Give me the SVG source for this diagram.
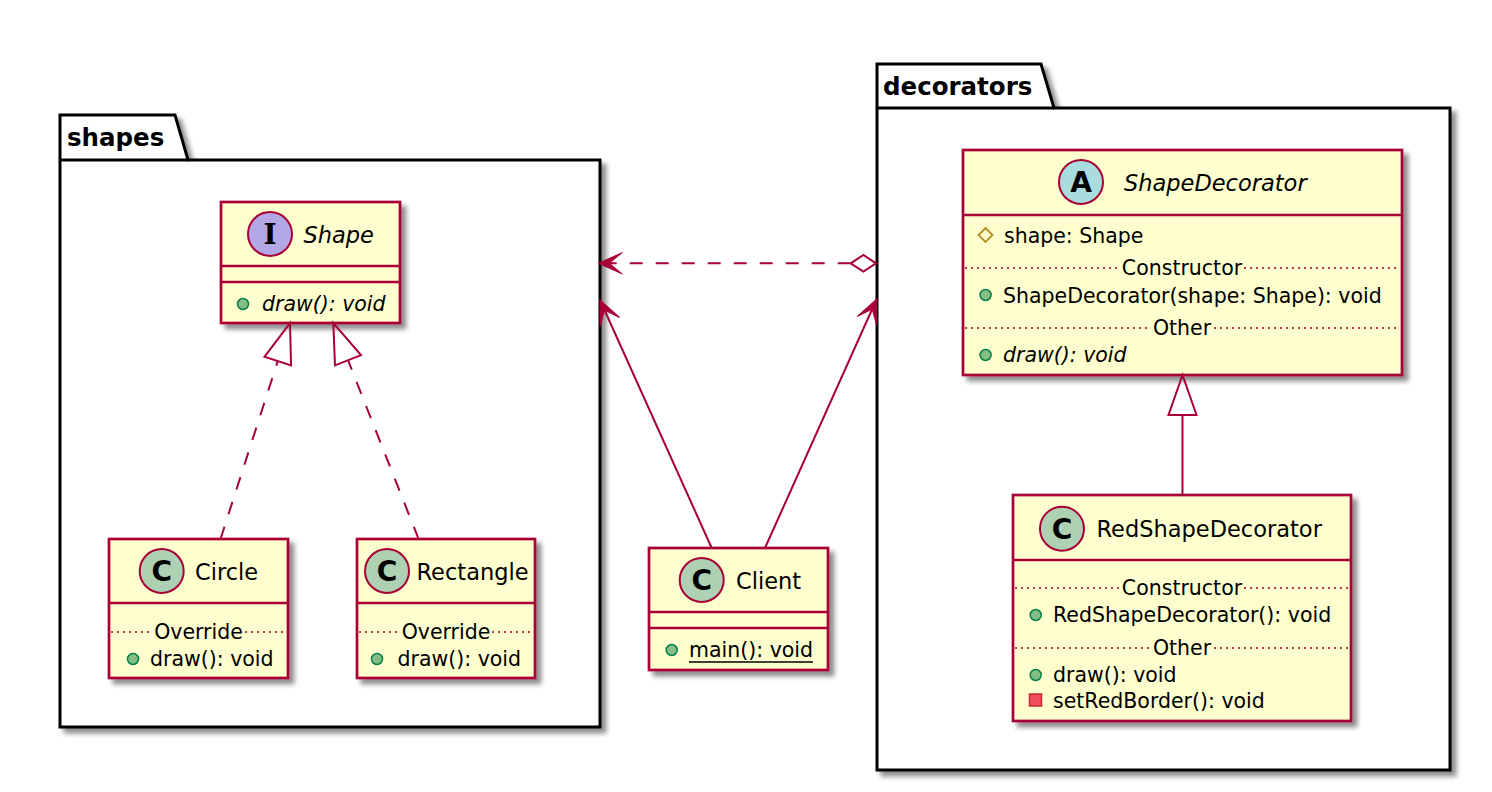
<svg xmlns="http://www.w3.org/2000/svg" width="1492" height="792" viewBox="0 0 1492 792">
<defs>
<style>
.pkg{fill:#fff;stroke:#000;stroke-width:3}
.pkgt{font:bold 24.5px "DejaVu Sans",sans-serif;fill:#000}
.cls{fill:#FEFECE;stroke:#A80036;stroke-width:2.7}
.sep{stroke:#A80036;stroke-width:2.5}
.dot{stroke:#A80036;stroke-width:1.5;stroke-dasharray:2 4}
.name{font:22.5px "DejaVu Sans",sans-serif;fill:#000}
.mem{font:20.5px "DejaVu Sans",sans-serif;fill:#000}
.mid{text-anchor:middle}
.it{font-style:italic}
.ic{stroke:#A80036;stroke-width:2}
.icC{fill:#ADD1B2}
.icA{fill:#A9DCDF}
.icI{fill:#B4A7E5}
.ltr{font:bold 28px "DejaVu Sans",sans-serif;text-anchor:middle;fill:#000}
.ltrI{font:bold 28px "DejaVu Serif",serif;text-anchor:middle;fill:#000}
.pub{fill:#84BE84;stroke:#038048;stroke-width:1.5}
.prot{fill:none;stroke:#B38D22;stroke-width:1.8}
.priv{fill:#F24D5C;stroke:#C82930;stroke-width:1.5}
.edge{stroke:#A80036;stroke-width:2;fill:none}
.dash{stroke-dasharray:13 13}
.ul{stroke:#000;stroke-width:1.5}
</style>
<filter id="sh" x="-5%" y="-5%" width="115%" height="115%">
<feGaussianBlur in="SourceAlpha" stdDeviation="2.5"/>
<feOffset dx="5" dy="5"/>
<feComponentTransfer><feFuncA type="linear" slope="0.45"/></feComponentTransfer>
<feMerge><feMergeNode/><feMergeNode in="SourceGraphic"/></feMerge>
</filter>
<marker id="tri" markerUnits="userSpaceOnUse" markerWidth="44" markerHeight="32" refX="0" refY="0" orient="auto" overflow="visible">
<path d="M0,-14 L40,0 L0,14 Z" fill="none" stroke="#A80036" stroke-width="2" stroke-dasharray="none"/>
</marker>
<marker id="arr" markerUnits="userSpaceOnUse" markerWidth="26" markerHeight="24" refX="0" refY="0" orient="auto" overflow="visible">
<path d="M0,0 L-24,-10.7 L-11,0 L-24,10.7 Z" fill="#A80036" stroke="#A80036" stroke-width="1" stroke-dasharray="none"/>
</marker>
<marker id="dia" markerUnits="userSpaceOnUse" markerWidth="28" markerHeight="20" refX="0" refY="0" orient="auto" overflow="visible">
<path d="M0,0 L-12.7,-8.3 L-25.3,0 L-12.7,8.3 Z" fill="#fff" stroke="#A80036" stroke-width="2" stroke-dasharray="none"/>
</marker>
</defs>
<rect width="1492" height="792" fill="#fff"/>

<g id="pkg-shapes">
<path class="pkg" filter="url(#sh)" d="M60,115 L175,115 L188,160 L600,160 L600,727 L60,727 Z"/>
<line class="pkg" x1="60" y1="160" x2="188" y2="160"/>
<text class="pkgt" x="67" y="146">shapes</text>
</g>

<g id="pkg-decorators">
<path class="pkg" filter="url(#sh)" d="M877,64 L1041,64 L1054,108 L1450,108 L1450,770 L877,770 Z"/>
<line class="pkg" x1="877" y1="108" x2="1054" y2="108"/>
<text class="pkgt" x="883" y="95">decorators</text>
</g>

<g id="Shape">
<rect class="cls" filter="url(#sh)" x="221" y="202" width="179" height="121"/>
<line class="sep" x1="221" y1="266" x2="400" y2="266"/>
<line class="sep" x1="221" y1="282" x2="400" y2="282"/>
<circle class="ic icI" cx="270" cy="234" r="22"/>
<text class="ltrI" x="270" y="244">I</text>
<text class="name it" x="303.5" y="243">Shape</text>
<circle class="pub" cx="243" cy="304" r="5.5"/>
<text class="mem it" x="262" y="311">draw(): void</text>
</g>

<g id="Circle">
<rect class="cls" filter="url(#sh)" x="109" y="539" width="179" height="139"/>
<line class="sep" x1="109" y1="603" x2="288" y2="603"/>
<circle class="ic icC" cx="161.7" cy="571" r="22"/>
<text class="ltr" x="161.7" y="581">C</text>
<text class="name" x="195" y="580">Circle</text>
<line class="dot" x1="111" y1="632" x2="152" y2="632"/>
<line class="dot" x1="245" y1="632" x2="286" y2="632"/>
<text class="mem mid" x="198.5" y="639">Override</text>
<circle class="pub" cx="133" cy="659" r="5.5"/>
<text class="mem" x="150" y="666">draw(): void</text>
</g>

<g id="Rectangle">
<rect class="cls" filter="url(#sh)" x="357" y="539" width="178" height="139"/>
<line class="sep" x1="357" y1="603" x2="535" y2="603"/>
<circle class="ic icC" cx="387" cy="571" r="22"/>
<text class="ltr" x="387" y="581">C</text>
<text class="name" x="416.5" y="580">Rectangle</text>
<line class="dot" x1="359" y1="632" x2="400" y2="632"/>
<line class="dot" x1="492" y1="632" x2="533" y2="632"/>
<text class="mem mid" x="446" y="639">Override</text>
<circle class="pub" cx="377" cy="659" r="5.5"/>
<text class="mem" x="397.5" y="666">draw(): void</text>
</g>

<g id="Client">
<rect class="cls" filter="url(#sh)" x="649" y="548" width="179" height="122"/>
<line class="sep" x1="649" y1="612" x2="828" y2="612"/>
<line class="sep" x1="649" y1="628" x2="828" y2="628"/>
<circle class="ic icC" cx="701.7" cy="580" r="22"/>
<text class="ltr" x="701.7" y="590">C</text>
<text class="name" x="736" y="589">Client</text>
<circle class="pub" cx="671.7" cy="650" r="5.5"/>
<text class="mem" x="689" y="657">main(): void</text>
<line class="ul" x1="689" y1="662" x2="813" y2="662"/>
</g>

<g id="ShapeDecorator">
<rect class="cls" filter="url(#sh)" x="963" y="150" width="439" height="225"/>
<line class="sep" x1="963" y1="215" x2="1402" y2="215"/>
<circle class="ic icA" cx="1081" cy="182" r="22"/>
<text class="ltr" x="1081" y="192">A</text>
<text class="name it" x="1124" y="191">ShapeDecorator</text>
<polygon class="prot" points="985.5,228 992.5,235 985.5,242 978.5,235"/>
<text class="mem" x="1004" y="243">shape: Shape</text>
<line class="dot" x1="965" y1="268" x2="1120" y2="268"/>
<line class="dot" x1="1244" y1="268" x2="1400" y2="268"/>
<text class="mem mid" x="1182" y="275">Constructor</text>
<circle class="pub" cx="985.6" cy="295" r="5.5"/>
<text class="mem" x="1003" y="303">ShapeDecorator(shape: Shape): void</text>
<line class="dot" x1="965" y1="328" x2="1150" y2="328"/>
<line class="dot" x1="1214" y1="328" x2="1400" y2="328"/>
<text class="mem mid" x="1182" y="335">Other</text>
<circle class="pub" cx="985.6" cy="355" r="5.5"/>
<text class="mem it" x="1003" y="362">draw(): void</text>
</g>

<g id="RedShapeDecorator">
<rect class="cls" filter="url(#sh)" x="1013" y="495" width="338" height="226"/>
<line class="sep" x1="1013" y1="560" x2="1351" y2="560"/>
<circle class="ic icC" cx="1062" cy="528.7" r="22"/>
<text class="ltr" x="1062" y="538.7">C</text>
<text class="name" x="1096.5" y="537">RedShapeDecorator</text>
<line class="dot" x1="1015" y1="588" x2="1120" y2="588"/>
<line class="dot" x1="1244" y1="588" x2="1349" y2="588"/>
<text class="mem mid" x="1182" y="595">Constructor</text>
<circle class="pub" cx="1035.7" cy="615" r="5.5"/>
<text class="mem" x="1053" y="622">RedShapeDecorator(): void</text>
<line class="dot" x1="1015" y1="648" x2="1150" y2="648"/>
<line class="dot" x1="1214" y1="648" x2="1349" y2="648"/>
<text class="mem mid" x="1182" y="655">Other</text>
<circle class="pub" cx="1035.7" cy="675" r="5.5"/>
<text class="mem" x="1053" y="682">draw(): void</text>
<rect class="priv" x="1029.5" y="694" width="12" height="12"/>
<text class="mem" x="1053" y="708">setRedBorder(): void</text>
</g>

<g id="connectors">
<path class="edge dash" d="M220.5,539 L277.75,361.1" marker-end="url(#tri)"/>
<path class="edge dash" d="M418.6,539 L348,360.2" marker-end="url(#tri)"/>
<path class="edge" d="M1182.5,495 L1182.5,415" marker-end="url(#tri)"/>
<path class="edge dash" d="M850.7,263.3 L598.3,263.3" marker-start="url(#dia)" marker-end="url(#arr)"/>
<path class="edge" d="M711.7,548 L600,300" marker-end="url(#arr)"/>
<path class="edge" d="M765,548 L876.7,299" marker-end="url(#arr)"/>
</g>
</svg>
